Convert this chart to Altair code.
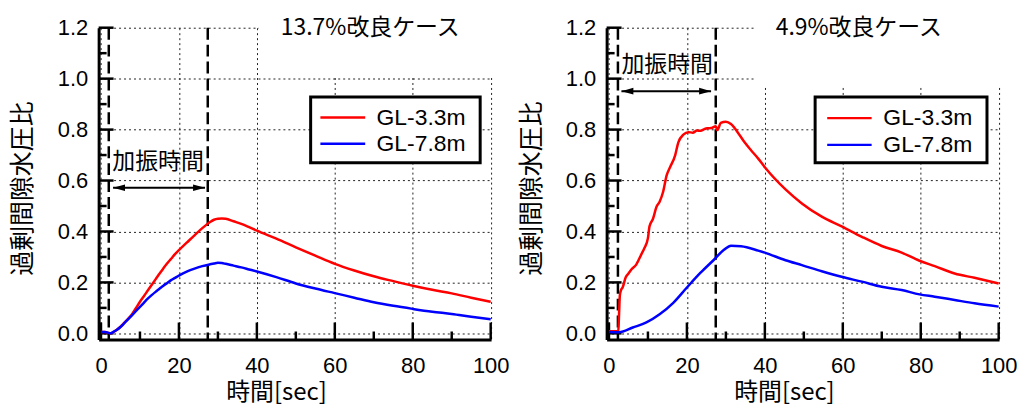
import altair as alt
import pandas as pd

# ---------------- data ----------------
SERIES = ["GL-3.3m", "GL-7.8m"]
SERIES_COLORS = ["#ff0000", "#0000ff"]
TICK_KEY = "tick"

X_TICKS = [0, 20, 40, 60, 80, 100]
X_MINOR = [10, 30, 50, 70, 90]
Y_TICKS = [0.0, 0.2, 0.4, 0.6, 0.8, 1.0, 1.2]
Y_MINOR = [0.1, 0.3, 0.5, 0.7, 0.9, 1.1]
X_DOMAIN = [-0.6, 100.1]
Y_DOMAIN = [-0.024, 1.2]

SHAKE_LABEL = "加振時間"
Y_TITLE = "過剰間隙水圧比"
X_TITLE = "時間[sec]"

# Panel A : 13.7% case
A_TITLE = "13.7%改良ケース"
A_T_33 = [0, 1, 2, 2.5, 3, 4, 5, 6, 7, 8, 9, 10, 11, 12, 13, 14, 15, 16, 17, 18, 19, 20,
          22, 24, 26, 28, 29, 30, 31, 32, 34, 36, 38, 40, 45, 50, 55, 60, 65, 70, 75, 80,
          85, 90, 95, 100]
A_V_33 = [0.005, 0.005, 0.002, 0.0, 0.004, 0.013, 0.026, 0.042, 0.058, 0.076, 0.1, 0.124,
          0.146, 0.168, 0.19, 0.212, 0.234, 0.255, 0.275, 0.293, 0.311, 0.327,
          0.356, 0.385, 0.413, 0.437, 0.446, 0.45, 0.451, 0.45, 0.44, 0.43, 0.417, 0.403,
          0.372, 0.338, 0.305, 0.273, 0.247, 0.224, 0.205, 0.187, 0.171, 0.157, 0.14, 0.124]
A_T_78 = [0, 1, 2, 2.5, 3, 4, 5, 6, 7, 8, 9, 10, 11, 12, 13, 14, 15, 16, 17, 18, 19, 20,
          22, 24, 26, 28, 29, 30, 31, 32, 34, 36, 38, 40, 45, 50, 55, 60, 65, 70, 75, 80,
          85, 90, 95, 100]
A_V_78 = [0.005, 0.005, 0.002, 0.0, 0.004, 0.013, 0.025, 0.04, 0.056, 0.072, 0.088, 0.104,
          0.12, 0.136, 0.15, 0.163, 0.175, 0.187, 0.198, 0.209, 0.218, 0.227,
          0.242, 0.254, 0.264, 0.271, 0.274, 0.277, 0.276, 0.273, 0.266, 0.259, 0.251, 0.243,
          0.221, 0.196, 0.176, 0.158, 0.14, 0.122, 0.108, 0.096, 0.085, 0.076, 0.065, 0.055]
A_SHAKE = [2.0, 27.4]
A_ARROW = [3.1, 26.7, 0.572]
A_LABEL_POS = [2.9, 0.674]
A_TITLE_POS = [69.1, 1.2]
A_COVER = [40.5, 101.0, 1.006, 1.22]
A_LEGEND_BOX = [53.8, 97.3, 0.670, 0.928]
A_LEGEND_LINE = [56.3, 67.8]
A_LEGEND_Y = [0.847, 0.744]
A_LEGEND_TX = 70.7

# Panel B : 4.9% case
B_TITLE = "4.9%改良ケース"
B_T_33 = [0, 1, 2, 2.4, 2.6, 2.8, 3.1, 3.5, 4.3, 5.0, 5.7, 7.0, 8.3, 9.1, 10.0, 10.4,
          11.3, 12.2, 13.0, 13.9, 14.8, 15.7, 17.0, 17.8, 19.1, 20.4, 21.5, 22.6, 23.5,
          24.5, 25.2, 26.3, 27.4, 27.8, 28.7, 30.0, 31.3, 33.0, 34.8, 36.5, 38.3, 40,
          45.3, 49.5, 54.6, 59.7, 64.9, 70, 75.1, 79.7, 83.6, 88.7, 93.8, 100]
B_V_33 = [0.008, 0.008, 0.008, 0.01, 0.08, 0.15, 0.17, 0.18, 0.22, 0.235, 0.25, 0.27, 0.31,
          0.335, 0.374, 0.42, 0.45, 0.497, 0.517, 0.556, 0.62, 0.653, 0.70, 0.75, 0.78,
          0.79, 0.788, 0.796, 0.795, 0.802, 0.805, 0.806, 0.813, 0.798, 0.826, 0.831,
          0.822, 0.79, 0.75, 0.718, 0.686, 0.652, 0.565, 0.51, 0.458, 0.42, 0.379, 0.343,
          0.317, 0.285, 0.264, 0.235, 0.218, 0.196]
B_T_78 = [0, 2.6, 6.1, 9.6, 13.0, 16.5, 20, 23.5, 27, 29.6, 31.3, 33.9, 38.3, 40, 45.3,
          49.5, 54.6, 59.7, 64.9, 70, 75.1, 79.7, 83.6, 88.7, 93.8, 100]
B_V_78 = [0.005, 0.004, 0.023, 0.043, 0.075, 0.12, 0.18, 0.238, 0.29, 0.329, 0.344, 0.342,
          0.325, 0.317, 0.287, 0.268, 0.244, 0.222, 0.203, 0.183, 0.17, 0.153, 0.144,
          0.131, 0.118, 0.105]
B_SHAKE = [2.3, 27.4]
B_ARROW = [3.2, 26.2, 0.951]
B_LABEL_POS = [3.2, 1.053]
B_TITLE_POS = [64.1, 1.2]
B_COVER = [37.5, 101.0, 0.975, 1.22]
B_LEGEND_BOX = [52.9, 97.0, 0.670, 0.928]
B_LEGEND_LINE = [56.0, 67.4]
B_LEGEND_Y = [0.845, 0.740]
B_LEGEND_TX = 70.4

# ---------------- styling ----------------
W, H = 394, 313
JP = "Noto Sans CJK JP"
LAT = "Liberation Sans"
PX_PER_X = W / (X_DOMAIN[1] - X_DOMAIN[0])
PX_PER_Y = H / (Y_DOMAIN[1] - Y_DOMAIN[0])
Y_MAJOR_LEN, Y_MINOR_LEN, X_MAJOR_LEN, X_MINOR_LEN = 15, 8, 17, 8


def tick_rows():
    """Inward axis tick segments (2 points each), lengths converted from pixels."""
    rows = []
    k = 0
    for vals, ln in ((Y_TICKS, Y_MAJOR_LEN), (Y_MINOR, Y_MINOR_LEN)):
        for v in vals:
            seg = f"ty{k}"
            k += 1
            rows.append({"t": X_DOMAIN[0], "v": v, "s": TICK_KEY, "seg": seg})
            rows.append({"t": X_DOMAIN[0] + ln / PX_PER_X, "v": v, "s": TICK_KEY,
                         "seg": seg})
    for vals, ln in ((X_TICKS, X_MAJOR_LEN), (X_MINOR, X_MINOR_LEN)):
        for t in vals:
            seg = f"tx{k}"
            k += 1
            rows.append({"t": t, "v": Y_DOMAIN[0], "s": TICK_KEY, "seg": seg})
            rows.append({"t": t, "v": Y_DOMAIN[0] + ln / PX_PER_Y, "s": TICK_KEY,
                         "seg": seg})
    return rows


def panel(title, t33, v33, t78, v78, shake, arrow, label_pos, title_pos, cover,
          lbox, lline, ly, ltx, ytitle_x):
    xs = alt.Scale(domain=X_DOMAIN, nice=False, zero=False)
    ys = alt.Scale(domain=Y_DOMAIN, nice=False, zero=False)

    x_axis = alt.Axis(
        values=X_TICKS, grid=True, gridColor="#222", gridDash=[2, 3], gridWidth=1,
        ticks=False, tickSize=0, domain=True, domainColor="black", domainWidth=3,
        labelFont=LAT, labelFontSize=22, labelColor="black", labelPadding=16,
        labelFlush=False, labelOverlap=False,
        title=X_TITLE, titleFont=JP, titleFontSize=24, titleFontWeight="normal",
        titleColor="black", titleX=178, titleY=41.5, titleAlign="center",
        titleBaseline="top", zindex=0,
    )
    y_axis = alt.Axis(
        values=Y_TICKS, format=".1f", grid=True, gridColor="#222", gridDash=[2, 3],
        gridWidth=1, ticks=False, tickSize=0, domain=True, domainColor="black",
        domainWidth=3, labelFont=LAT, labelFontSize=22, labelColor="black",
        labelPadding=11, labelOverlap=False, labelFlush=False,
        title=Y_TITLE, titleFont=JP, titleFontSize=25, titleFontWeight="normal",
        titleColor="black", titleAngle=270, titleX=ytitle_x, titleY=161,
        titleAlign="center", titleBaseline="middle", zindex=0,
    )

    def X(field):
        return alt.X(field, type="quantitative", scale=xs, axis=x_axis)

    def Y(field):
        return alt.Y(field, type="quantitative", scale=ys, axis=y_axis)

    curve_rows = (
        [{"t": a, "v": b, "s": SERIES[0], "seg": SERIES[0]} for a, b in zip(t33, v33)]
        + [{"t": a, "v": b, "s": SERIES[1], "seg": SERIES[1]} for a, b in zip(t78, v78)]
    )
    df = pd.DataFrame(tick_rows() + curve_rows)

    color = alt.Color("s:N",
                      scale=alt.Scale(domain=SERIES + [TICK_KEY],
                                      range=SERIES_COLORS + ["#000000"]),
                      legend=None)

    lines = alt.Chart(df).mark_line(strokeWidth=2.5, interpolate="monotone").encode(
        x=X("t"), y=Y("v"), color=color, detail="seg:N")

    cov = alt.Chart(pd.DataFrame({"x1": [cover[0]], "x2": [cover[1]],
                                  "y1": [cover[2]], "y2": [cover[3]]})).mark_rect(
        fill="white").encode(x=X("x1"), x2="x2:Q", y=Y("y1"), y2="y2:Q")

    dashed = alt.Chart(pd.DataFrame({"t": shake})).mark_rule(
        color="black", strokeWidth=2.5, strokeDash=[12, 5]).encode(x=X("t"))

    adf = pd.DataFrame({"a": [arrow[0]], "b": [arrow[1]], "y": [arrow[2]]})
    arr = alt.Chart(adf).mark_rule(color="black", strokeWidth=2).encode(
        x=X("a"), x2="b:Q", y=Y("y"))
    head_l = alt.Chart(adf).mark_point(
        shape="M0,0L2,-0.55L2,0.55Z", filled=True, size=144, color="black",
        opacity=1).encode(x=X("a"), y=Y("y"))
    head_r = alt.Chart(adf).mark_point(
        shape="M0,0L-2,-0.55L-2,0.55Z", filled=True, size=144, color="black",
        opacity=1).encode(x=X("b"), y=Y("y"))

    lab = alt.Chart(pd.DataFrame({"x": [label_pos[0]], "y": [label_pos[1]],
                                  "txt": [SHAKE_LABEL]})).mark_text(
        align="left", baseline="middle", font=JP, fontSize=23, color="black").encode(
        x=X("x"), y=Y("y"), text="txt:N")

    ttl = alt.Chart(pd.DataFrame({"x": [title_pos[0]], "y": [title_pos[1]],
                                  "txt": [title]})).mark_text(
        align="center", baseline="middle", font=JP, fontSize=23, color="black").encode(
        x=X("x"), y=Y("y"), text="txt:N")

    box = alt.Chart(pd.DataFrame({"x1": [lbox[0]], "x2": [lbox[1]],
                                  "y1": [lbox[2]], "y2": [lbox[3]]})).mark_rect(
        fill="white", stroke="black", strokeWidth=3).encode(
        x=X("x1"), x2="x2:Q", y=Y("y1"), y2="y2:Q")

    ldf = pd.DataFrame({"s": SERIES, "a": [lline[0]] * 2, "b": [lline[1]] * 2,
                        "y": ly, "tx": [ltx] * 2})
    lrules = alt.Chart(ldf).mark_rule(strokeWidth=2.5).encode(
        x=X("a"), x2="b:Q", y=Y("y"), color=color)
    ltext = alt.Chart(ldf).mark_text(
        align="left", baseline="middle", font=LAT, fontSize=23, color="black").encode(
        x=X("tx"), y=Y("y"), text="s:N")

    return alt.layer(
        cov, dashed, lines, arr, head_l, head_r, lab, ttl, box, lrules, ltext,
    ).properties(width=W, height=H)


left = panel(A_TITLE, A_T_33, A_V_33, A_T_78, A_V_78, A_SHAKE, A_ARROW, A_LABEL_POS,
             A_TITLE_POS, A_COVER, A_LEGEND_BOX, A_LEGEND_LINE, A_LEGEND_Y,
             A_LEGEND_TX, -76)
right = panel(B_TITLE, B_T_33, B_V_33, B_T_78, B_V_78, B_SHAKE, B_ARROW, B_LABEL_POS,
              B_TITLE_POS, B_COVER, B_LEGEND_BOX, B_LEGEND_LINE, B_LEGEND_Y,
              B_LEGEND_TX, -75)

chart = alt.hconcat(left, right, spacing=116, bounds="flush").properties(
    padding={"left": 3, "top": 8, "right": 0, "bottom": -2},
    background="white",
).configure_view(stroke=None)

chart.save("out.html", embed_options={"renderer": "svg", "actions": False})
